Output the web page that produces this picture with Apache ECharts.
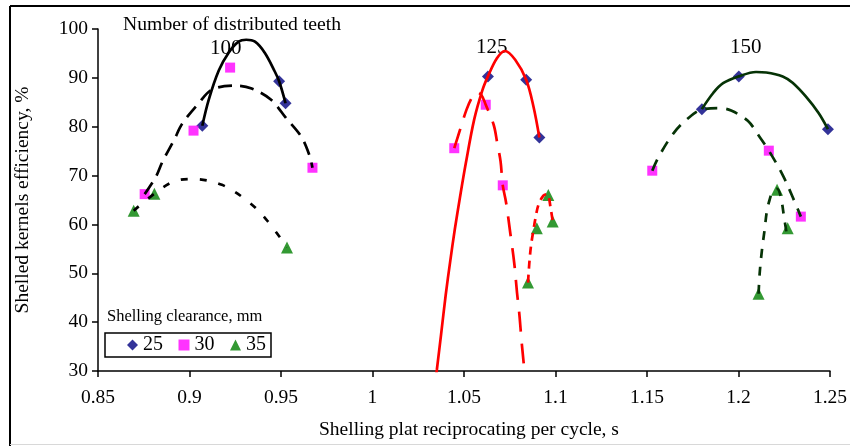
<!DOCTYPE html>
<html>
<head>
<meta charset="utf-8">
<style>
  html, body { margin: 0; padding: 0; background: #fff; }
  #chart { width: 850px; height: 446px; }
</style>
<script src="https://cdn.jsdelivr.net/npm/echarts@6/dist/echarts.min.js"></script>
</head>
<body>
<div id="chart"></div>
<script>
// Axis settings
const xMin = 0.85, xMax = 1.25, xStep = 0.05;
const yMin = 30, yMax = 100, yStep = 10;

const teethLabels = ['100', '125', '150'];
const clearances = ['25', '30', '35'];

// Measured points: [reciprocating time per cycle (s), shelled kernels efficiency (%)]
const t100_c25 = [[0.907, 80.2], [0.949, 89.3], [0.9525, 84.8]];
const t100_c30 = [[0.8755, 66.2], [0.9022, 79.2], [0.9222, 92.1], [0.9672, 71.6]];
const t100_c35 = [[0.8695, 62.8], [0.8808, 66.3], [0.9533, 55.3]];
const t125_c25 = [[1.0631, 90.3], [1.084, 89.6], [1.0912, 77.8]];
const t125_c30 = [[1.0447, 75.6], [1.0619, 84.5], [1.0712, 68.0]];
const t125_c35 = [[1.085, 48.1], [1.0898, 59.2], [1.0961, 66.0], [1.0985, 60.6]];
const t150_c25 = [[1.18, 83.6], [1.2002, 90.3], [1.2489, 79.5]];
const t150_c30 = [[1.1529, 71.0], [1.2166, 75.1], [1.2341, 61.6]];
const t150_c35 = [[1.211, 45.8], [1.2211, 67.1], [1.2269, 59.2]];

// Fitted trend curves
const t100_c25_fit = [[0.907, 80.2], [0.9105, 85.5], [0.916, 91.5], [0.9213, 95.1], [0.9268, 97.4], [0.931, 97.8], [0.9358, 97.4], [0.9412, 95.1], [0.9466, 91.3], [0.949, 89.3], [0.9525, 84.8]];
const t100_c30_fit = [[0.8755, 66.2], [0.8817, 69.8], [0.8853, 72.9], [0.8916, 77.3], [0.896, 80.6], [0.905, 84.8], [0.9123, 87.6], [0.925, 88.4], [0.934, 87.8], [0.9446, 85.5], [0.9527, 81.8], [0.961, 78.0], [0.9655, 74.2], [0.9672, 71.6]];
const t100_c35_fit = [[0.8695, 62.8], [0.8808, 66.3], [0.8916, 68.8], [0.9018, 69.3], [0.9177, 68.1], [0.932, 64.7], [0.942, 61.0], [0.9533, 55.3]];
const t125_c25_fit = [[1.0338, 26.0], [1.0352, 30.3], [1.0375, 37.5], [1.04, 45.5], [1.0425, 52.5], [1.045, 59.0], [1.0478, 65.5], [1.051, 72.5], [1.0556, 81.5], [1.06, 87.4], [1.0631, 90.3], [1.068, 94.0], [1.0723, 95.5], [1.078, 93.7], [1.084, 89.6], [1.088, 84.1], [1.0912, 77.8]];
const t125_c30_fit = [[1.0447, 75.6], [1.0483, 79.9], [1.0514, 83.5], [1.0541, 85.8], [1.0568, 87.1], [1.0595, 86.5], [1.0619, 84.5], [1.0663, 80.3], [1.0682, 76.6], [1.07, 72.9], [1.0712, 68.0], [1.073, 64.5], [1.0754, 58.0], [1.0775, 52.0], [1.079, 46.0], [1.0803, 41.5], [1.0815, 36.0], [1.0828, 30.9], [1.0836, 27.0]];
const t125_c35_fit = [[1.085, 48.1], [1.0857, 52.0], [1.0866, 55.5], [1.0878, 58.5], [1.0892, 61.5], [1.0907, 64.0], [1.0934, 65.9], [1.0955, 66.2], [1.0975, 63.0], [1.0985, 60.6]];
const t150_c25_fit = [[1.18, 83.6], [1.1862, 86.9], [1.1916, 88.9], [1.2002, 90.3], [1.2096, 91.2], [1.2152, 91.1], [1.2242, 90.3], [1.2296, 89.0], [1.2368, 86.2], [1.2438, 82.8], [1.2489, 79.5]];
const t150_c30_fit = [[1.1529, 71.0], [1.1565, 73.9], [1.1646, 78.7], [1.1727, 81.8], [1.18, 83.5], [1.1898, 83.8], [1.196, 83.3], [1.2051, 81.2], [1.2114, 78.0], [1.2166, 75.1], [1.2242, 70.1], [1.2295, 65.7], [1.2341, 61.6]];
const t150_c35_fit = [[1.211, 45.8], [1.2116, 50.0], [1.2128, 54.6], [1.2143, 58.9], [1.2155, 62.6], [1.217, 65.0], [1.2187, 66.7], [1.2211, 67.3], [1.2231, 65.7], [1.2249, 61.6], [1.2262, 58.5], [1.2267, 57.5]];

const FONT = 'Liberation Serif';
const markerColors = { '25': '#000080', '30': '#FF00FF', '35': '#008000' };
const markerShapes = { '25': 'diamond', '30': 'rect', '35': 'triangle' };
const markerSizes = { '25': 12, '30': 10, '35': 12 };
const curveColors = { '100': '#000000', '125': '#FF0000', '150': '#063306' };
// dash rhythm of each dashed trend curve
const dashStyles = {
  '100/30': [14, 8], '100/35': [7, 12],
  '125/30': [20, 12], '125/35': [8, 6],
  '150/30': [12, 9], '150/35': [9, 9]
};

const points = {
  '100': { '25': t100_c25, '30': t100_c30, '35': t100_c35 },
  '125': { '25': t125_c25, '30': t125_c30, '35': t125_c35 },
  '150': { '25': t150_c25, '30': t150_c30, '35': t150_c35 }
};
const fits = {
  '100': { '25': t100_c25_fit, '30': t100_c30_fit, '35': t100_c35_fit },
  '125': { '25': t125_c25_fit, '30': t125_c30_fit, '35': t125_c35_fit },
  '150': { '25': t150_c25_fit, '30': t150_c30_fit, '35': t150_c35_fit }
};

const series = [];
// markers: one series per clearance, across all tooth counts
clearances.forEach(c => {
  series.push({
    name: c,
    type: 'scatter',
    symbol: markerShapes[c],
    symbolSize: markerSizes[c],
    itemStyle: { color: markerColors[c] },
    z: 2,
    data: teethLabels.flatMap(t => points[t][c])
  });
});
// trend curves
teethLabels.forEach(t => {
  clearances.forEach(c => {
    series.push({
      name: 'fit ' + t + '/' + c,
      type: 'line',
      smooth: 0.35,
      showSymbol: false,
      symbol: 'none',
      silent: true,
      clip: true,
      z: 3,
      lineStyle: {
        color: curveColors[t],
        width: 2.7,
        type: c === '25' ? 'solid' : dashStyles[t + '/' + c],
        cap: 'butt'
      },
      data: fits[t][c]
    });
  });
});

const chart = echarts.init(document.getElementById('chart'), null, { renderer: 'canvas' });
chart.setOption({
  animation: false,
  backgroundColor: '#fff',
  grid: { left: 98, right: 12, top: 29, bottom: 75, containLabel: false },
  xAxis: {
    type: 'value',
    min: xMin, max: xMax, interval: xStep,
    name: 'Shelling plat reciprocating per cycle, s',
    nameLocation: 'middle',
    nameGap: 49,
    nameTextStyle: { fontFamily: FONT, fontSize: 19.5, color: '#000', padding: [0, 0, 0, 10] },
    axisLine: { onZero: false, lineStyle: { color: '#000', width: 1.5 } },
    axisTick: { show: true, length: 6, lineStyle: { color: '#000', width: 1.5 } },
    axisLabel: {
      margin: 17,
      fontFamily: FONT, fontSize: 19.5, color: '#000',
      formatter: v => String(+v.toFixed(2))
    },
    splitLine: { show: false }
  },
  yAxis: {
    type: 'value',
    min: yMin, max: yMax, interval: yStep,
    name: 'Shelled kernels efficiency, %',
    nameLocation: 'middle',
    nameGap: 65,
    nameTextStyle: { fontFamily: FONT, fontSize: 19.5, color: '#000' },
    axisLine: { show: true, lineStyle: { color: '#000', width: 1.5 } },
    axisTick: { show: true, length: 6, lineStyle: { color: '#000', width: 1.5 } },
    axisLabel: { margin: 10, fontFamily: FONT, fontSize: 19.5, color: '#000' },
    splitLine: { show: false }
  },
  legend: {
    data: clearances.map(c => ({ name: c, icon: markerShapes[c] })),
    left: 105, top: 333,
    orient: 'horizontal',
    itemWidth: 11, itemHeight: 11, itemGap: 15.5,
    padding: [2, 5, 2, 22],
    borderColor: '#000', borderWidth: 1.5,
    selectedMode: false,
    textStyle: { fontFamily: FONT, fontSize: 20, color: '#000' }
  },
  graphic: [
    { type: 'line', shape: { x1: 10, y1: 6, x2: 850, y2: 6 }, style: { stroke: '#000', lineWidth: 2 } },
    { type: 'line', shape: { x1: 10, y1: 6, x2: 10, y2: 446 }, style: { stroke: '#000', lineWidth: 2 } },
    { type: 'line', shape: { x1: 10, y1: 444.5, x2: 850, y2: 444.5 }, style: { stroke: '#d8d8d8', lineWidth: 1 } },
    { type: 'text', left: 123, top: 15, style: { text: 'Number of distributed teeth', font: '19.7px "Liberation Serif"', fill: '#000' } },
    { type: 'text', left: 210, top: 38, style: { text: teethLabels[0], font: '21px "Liberation Serif"', fill: '#000' } },
    { type: 'text', left: 476, top: 37, style: { text: teethLabels[1], font: '21px "Liberation Serif"', fill: '#000' } },
    { type: 'text', left: 730, top: 37, style: { text: teethLabels[2], font: '21px "Liberation Serif"', fill: '#000' } },
    { type: 'text', left: 107, top: 308, style: { text: 'Shelling clearance, mm', font: '16.5px "Liberation Serif"', fill: '#000' } }
  ],
  series: series
});
</script>
</body>
</html>
